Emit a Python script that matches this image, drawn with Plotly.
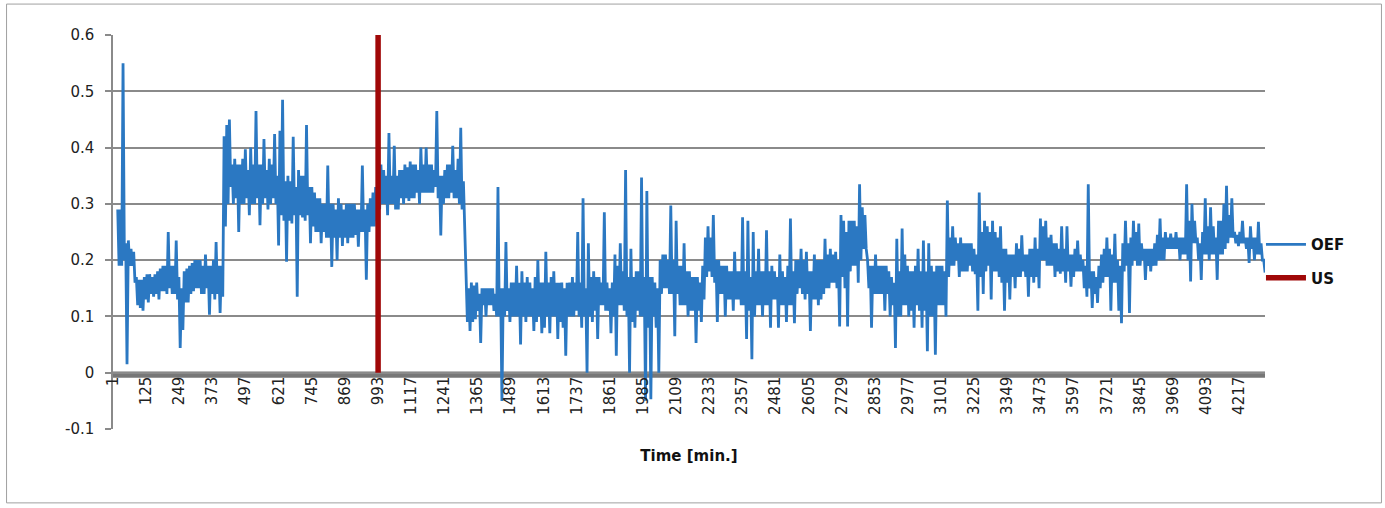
import plotly.graph_objects as go

# ---- data ----
# For every 10-minute slot: top and bottom of the OEF trace.
oef_top_rows = [
    [0.29, 0.29, 0.55, 0.23, 0.235, 0.22, 0.215, 0.17, 0.165, 0.165, 0.17, 0.175, 0.175, 0.17, 0.175, 0.18, 0.185, 0.19, 0.19, 0.25],
    [0.19, 0.19, 0.235, 0.17, 0.15, 0.18, 0.185, 0.19, 0.195, 0.20, 0.20, 0.20, 0.19, 0.21, 0.19, 0.19, 0.20, 0.232, 0.19, 0.19],
    [0.42, 0.44, 0.45, 0.37, 0.38, 0.37, 0.37, 0.38, 0.397, 0.36, 0.40, 0.37, 0.465, 0.37, 0.37, 0.415, 0.36, 0.38, 0.37, 0.424],
    [0.35, 0.43, 0.485, 0.34, 0.35, 0.34, 0.419, 0.33, 0.36, 0.35, 0.35, 0.44, 0.33, 0.33, 0.32, 0.31, 0.31, 0.30, 0.30, 0.368],
    [0.30, 0.30, 0.29, 0.31, 0.30, 0.29, 0.30, 0.30, 0.30, 0.30, 0.29, 0.29, 0.368, 0.29, 0.30, 0.31, 0.32, 0.33, 0.38, 0.37],
    [0.36, 0.35, 0.426, 0.35, 0.403, 0.35, 0.36, 0.36, 0.37, 0.365, 0.375, 0.37, 0.37, 0.36, 0.40, 0.37, 0.40, 0.37, 0.37, 0.36],
    [0.465, 0.35, 0.35, 0.36, 0.37, 0.37, 0.403, 0.36, 0.38, 0.435, 0.34, 0.16, 0.15, 0.16, 0.155, 0.16, 0.14, 0.15, 0.15, 0.15],
    [0.15, 0.15, 0.14, 0.33, 0.15, 0.15, 0.232, 0.15, 0.16, 0.16, 0.19, 0.16, 0.18, 0.16, 0.17, 0.16, 0.15, 0.17, 0.20, 0.16],
    [0.16, 0.215, 0.16, 0.17, 0.18, 0.16, 0.16, 0.16, 0.15, 0.16, 0.16, 0.17, 0.16, 0.25, 0.16, 0.31, 0.15, 0.23, 0.17, 0.18],
    [0.17, 0.17, 0.16, 0.285, 0.16, 0.15, 0.16, 0.21, 0.19, 0.23, 0.18, 0.36, 0.17, 0.22, 0.17, 0.18, 0.18, 0.347, 0.17, 0.323],
    [0.17, 0.17, 0.16, 0.15, 0.20, 0.21, 0.21, 0.20, 0.297, 0.20, 0.27, 0.19, 0.19, 0.23, 0.18, 0.18, 0.17, 0.17, 0.17, 0.16],
    [0.19, 0.24, 0.26, 0.24, 0.28, 0.20, 0.20, 0.19, 0.19, 0.19, 0.18, 0.18, 0.215, 0.18, 0.18, 0.276, 0.18, 0.27, 0.17, 0.25],
    [0.18, 0.22, 0.18, 0.18, 0.253, 0.18, 0.19, 0.18, 0.17, 0.21, 0.18, 0.17, 0.19, 0.274, 0.18, 0.20, 0.20, 0.22, 0.20, 0.215],
    [0.18, 0.18, 0.21, 0.20, 0.20, 0.20, 0.238, 0.21, 0.22, 0.21, 0.215, 0.20, 0.28, 0.27, 0.25, 0.27, 0.27, 0.27, 0.26, 0.335],
    [0.294, 0.28, 0.20, 0.19, 0.19, 0.21, 0.19, 0.19, 0.19, 0.19, 0.18, 0.17, 0.16, 0.238, 0.18, 0.256, 0.21, 0.19, 0.18, 0.18],
    [0.19, 0.22, 0.18, 0.235, 0.18, 0.23, 0.19, 0.18, 0.19, 0.19, 0.19, 0.18, 0.306, 0.24, 0.26, 0.24, 0.23, 0.24, 0.23, 0.23],
    [0.23, 0.23, 0.22, 0.21, 0.32, 0.25, 0.27, 0.26, 0.25, 0.27, 0.25, 0.24, 0.26, 0.22, 0.22, 0.21, 0.21, 0.21, 0.23, 0.22],
    [0.244, 0.21, 0.21, 0.22, 0.22, 0.24, 0.22, 0.274, 0.26, 0.27, 0.24, 0.245, 0.23, 0.23, 0.22, 0.26, 0.22, 0.26, 0.21, 0.21],
    [0.22, 0.235, 0.21, 0.20, 0.19, 0.335, 0.18, 0.18, 0.17, 0.19, 0.21, 0.22, 0.24, 0.22, 0.21, 0.247, 0.20, 0.19, 0.23, 0.27],
    [0.23, 0.24, 0.27, 0.25, 0.265, 0.23, 0.22, 0.22, 0.22, 0.22, 0.23, 0.245, 0.274, 0.24, 0.25, 0.24, 0.247, 0.24, 0.25, 0.24],
    [0.24, 0.24, 0.335, 0.27, 0.30, 0.27, 0.24, 0.23, 0.25, 0.31, 0.26, 0.294, 0.26, 0.24, 0.27, 0.27, 0.30, 0.332, 0.28, 0.31],
    [0.25, 0.245, 0.25, 0.27, 0.24, 0.24, 0.26, 0.24, 0.24, 0.268, 0.23, 0.20],
]
oef_bottom_rows = [
    [0.19, 0.19, 0.20, 0.015, 0.19, 0.19, 0.16, 0.12, 0.115, 0.11, 0.13, 0.125, 0.14, 0.135, 0.14, 0.13, 0.145, 0.145, 0.14, 0.15],
    [0.14, 0.14, 0.13, 0.044, 0.076, 0.125, 0.125, 0.14, 0.145, 0.15, 0.15, 0.14, 0.14, 0.15, 0.103, 0.14, 0.13, 0.14, 0.106, 0.135],
    [0.26, 0.30, 0.33, 0.30, 0.31, 0.25, 0.30, 0.30, 0.31, 0.28, 0.30, 0.30, 0.31, 0.262, 0.30, 0.31, 0.29, 0.30, 0.31, 0.30],
    [0.226, 0.28, 0.27, 0.197, 0.27, 0.265, 0.28, 0.135, 0.28, 0.276, 0.27, 0.28, 0.23, 0.26, 0.25, 0.25, 0.23, 0.25, 0.24, 0.24],
    [0.188, 0.24, 0.20, 0.24, 0.225, 0.24, 0.23, 0.24, 0.24, 0.245, 0.224, 0.25, 0.25, 0.165, 0.25, 0.26, 0.26, 0.27, 0.29, 0.30],
    [0.30, 0.28, 0.30, 0.30, 0.29, 0.29, 0.31, 0.30, 0.31, 0.305, 0.31, 0.31, 0.32, 0.30, 0.32, 0.32, 0.32, 0.32, 0.32, 0.33],
    [0.31, 0.244, 0.30, 0.31, 0.31, 0.32, 0.31, 0.31, 0.30, 0.29, 0.27, 0.09, 0.074, 0.09, 0.095, 0.11, 0.053, 0.12, 0.10, 0.12],
    [0.12, 0.11, 0.10, 0.10, -0.05, 0.10, 0.11, 0.09, 0.10, 0.10, 0.10, 0.05, 0.10, 0.09, 0.10, 0.10, 0.074, 0.09, 0.10, 0.07],
    [0.08, 0.10, 0.07, 0.10, 0.10, 0.06, 0.09, 0.08, 0.03, 0.10, 0.10, 0.10, 0.11, 0.10, 0.08, 0.10, 0.0, 0.10, 0.09, 0.11],
    [0.06, 0.12, 0.12, 0.11, 0.11, 0.07, 0.10, 0.03, 0.12, 0.12, 0.11, 0.10, 0.0, 0.09, 0.08, 0.11, 0.10, 0.10, -0.05, 0.08],
    [-0.047, 0.10, 0.08, 0.0, 0.14, 0.15, 0.15, 0.14, 0.14, 0.065, 0.14, 0.12, 0.12, 0.12, 0.10, 0.11, 0.11, 0.053, 0.11, 0.09],
    [0.13, 0.17, 0.18, 0.17, 0.16, 0.09, 0.14, 0.14, 0.10, 0.13, 0.13, 0.11, 0.13, 0.13, 0.12, 0.12, 0.06, 0.11, 0.024, 0.10],
    [0.12, 0.12, 0.10, 0.12, 0.12, 0.08, 0.13, 0.13, 0.08, 0.12, 0.12, 0.09, 0.12, 0.12, 0.088, 0.14, 0.15, 0.14, 0.13, 0.14],
    [0.074, 0.13, 0.13, 0.12, 0.13, 0.14, 0.15, 0.15, 0.16, 0.16, 0.15, 0.082, 0.17, 0.15, 0.082, 0.18, 0.19, 0.19, 0.16, 0.20],
    [0.22, 0.22, 0.15, 0.08, 0.14, 0.14, 0.14, 0.14, 0.11, 0.14, 0.10, 0.12, 0.044, 0.10, 0.10, 0.12, 0.12, 0.10, 0.11, 0.08],
    [0.12, 0.11, 0.08, 0.11, 0.038, 0.10, 0.10, 0.032, 0.12, 0.12, 0.12, 0.10, 0.17, 0.19, 0.19, 0.20, 0.17, 0.18, 0.18, 0.18],
    [0.19, 0.18, 0.175, 0.11, 0.17, 0.14, 0.18, 0.19, 0.13, 0.18, 0.18, 0.17, 0.16, 0.11, 0.16, 0.13, 0.17, 0.15, 0.17, 0.17],
    [0.18, 0.17, 0.135, 0.17, 0.16, 0.17, 0.15, 0.20, 0.20, 0.19, 0.19, 0.19, 0.17, 0.18, 0.176, 0.18, 0.16, 0.18, 0.153, 0.17],
    [0.18, 0.18, 0.18, 0.15, 0.135, 0.15, 0.115, 0.14, 0.124, 0.15, 0.16, 0.17, 0.17, 0.11, 0.16, 0.16, 0.11, 0.088, 0.18, 0.19],
    [0.106, 0.19, 0.20, 0.19, 0.19, 0.20, 0.165, 0.19, 0.18, 0.19, 0.19, 0.20, 0.20, 0.20, 0.22, 0.22, 0.22, 0.22, 0.22, 0.20],
    [0.21, 0.21, 0.20, 0.162, 0.23, 0.23, 0.20, 0.165, 0.21, 0.21, 0.20, 0.21, 0.21, 0.165, 0.21, 0.21, 0.22, 0.23, 0.24, 0.24],
    [0.23, 0.225, 0.23, 0.23, 0.22, 0.195, 0.22, 0.20, 0.21, 0.21, 0.20, 0.178],
]
oef_top = [v for row in oef_top_rows for v in row]
oef_bottom = [v for row in oef_bottom_rows for v in row]
slot_minute = [18.2 + 9.955 * i for i in range(len(oef_top))]

# trace path: top then bottom of every slot
minute, oef = [], []
for m, hi, lo in zip(slot_minute, oef_top, oef_bottom):
    minute += [round(m, 1), round(m + 4.98, 1)]
    oef += [hi, lo]

us_minute = [993, 993]
us_value = [0, 0.6]

tick_minutes = [1, 125, 249, 373, 497, 621, 745, 869, 993, 1117, 1241, 1365, 1489, 1613,
                1737, 1861, 1985, 2109, 2233, 2357, 2481, 2605, 2729, 2853, 2977, 3101,
                3225, 3349, 3473, 3597, 3721, 3845, 3969, 4093, 4217]
y_ticks = [-0.1, 0, 0.1, 0.2, 0.3, 0.4, 0.5, 0.6]
y_tick_text = ["-0.1", "0", "0.1", "0.2", "0.3", "0.4", "0.5", "0.6"]

fig = go.Figure()
fig.add_trace(go.Scatter(
    x=minute, y=oef, mode="lines", name="OEF", legendgroup="oef",
    line=dict(color="#2B78C2", width=2.8)))
fig.add_trace(go.Scatter(
    x=us_minute, y=us_value, mode="lines", name="US", legendgroup="us",
    line=dict(color="#A00808", width=5.5)))

grid = "#8a8a8a"
fig.update_layout(
    width=1385, height=508,
    margin=dict(l=113, r=120, t=35, b=79),
    paper_bgcolor="white", plot_bgcolor="white",
    showlegend=True,
    legend=dict(x=0.9965, xanchor="left", y=0.51, yanchor="top",
                font=dict(family="DejaVu Sans", size=15, color="#111", weight="bold"),
                tracegroupgap=11, itemwidth=40, bgcolor="rgba(0,0,0,0)"),
    xaxis=dict(range=[0.5, 4313.5], anchor="free", position=0.142857,
               tickvals=tick_minutes, ticktext=[str(t) for t in tick_minutes],
               tickangle=-90, ticks="", showgrid=False, zeroline=False, showline=False,
               tickfont=dict(family="DejaVu Sans", size=15, color="#222"),
               title=dict(text="Time [min.]", standoff=36,
                          font=dict(family="DejaVu Sans", size=15, color="#111", weight="bold")),
               automargin=False),
    yaxis=dict(range=[-0.1, 0.6], tickvals=y_ticks, ticktext=y_tick_text,
               showgrid=True, gridcolor=grid, gridwidth=1.5, zeroline=False,
               showline=True, linecolor=grid, linewidth=1.5,
               ticks="outside", ticklen=6, tickcolor=grid, tickwidth=1.5,
               ticklabelstandoff=8,
               tickfont=dict(family="DejaVu Sans", size=15, color="#222"),
               automargin=False),
    shapes=[
        dict(type="rect", xref="paper", yref="y", x0=0, x1=1, y0=0.002, y1=-0.009,
             fillcolor="#777777", line=dict(width=0), layer="between"),
        dict(type="rect", xref="paper", yref="paper", x0=-0.0924, x1=1.1011,
             y0=-0.1875, y1=1.0785, line=dict(color="#a0a0a0", width=1),
             fillcolor="rgba(0,0,0,0)", layer="above"),
    ],
)

fig.write_html("out.html", config={"displayModeBar": False},
               post_script="document.body.style.margin='0px';")
